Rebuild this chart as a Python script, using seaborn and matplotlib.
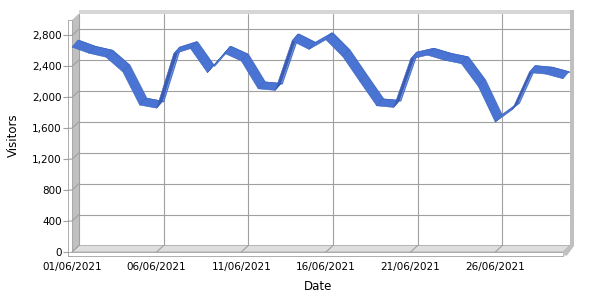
import numpy as np
import pandas as pd
import matplotlib
matplotlib.use("Agg")
import matplotlib.pyplot as plt
import matplotlib.dates as mdates
from matplotlib.patches import Polygon, Rectangle
from matplotlib.transforms import IdentityTransform
import seaborn as sns

# ---------------- data ----------------
dates = pd.date_range("2021-06-01", "2021-06-30", freq="D")
visitors = [2650, 2570, 2520, 2330, 1900, 1860, 2560, 2630, 2320, 2570,
            2470, 2110, 2090, 2730, 2620, 2745, 2525, 2205, 1890, 1870,
            2495, 2545, 2480, 2435, 2140, 1680, 1840, 2320, 2300, 2240]
y_ticks = [0, 400, 800, 1200, 1600, 2000, 2400, 2800]
x_tick_dates = pd.to_datetime(["2021-06-01", "2021-06-06", "2021-06-11",
                               "2021-06-16", "2021-06-21", "2021-06-26"])
x_label = "Date"
y_label = "Visitors"

df = pd.DataFrame({"Date": dates, "Visitors": visitors})

# ---------------- style ----------------
sns.set_theme(style="white")
plt.rcParams['font.family'] = ['DejaVu Sans']

W, H = 600, 300
fig = plt.figure(figsize=(6, 3), dpi=100)
fig.patch.set_facecolor("white")

def fr(l, t, r, b):
    return [l / W, 1 - b / H, (r - l) / W, (b - t) / H]

BL, BT, BR, BB = 79, 13.5, 570, 245.5     # back wall (image px)
DX, DY = -7, 6.5                          # depth offset of the front plane
GRID = "#a0a0a0"
RIB = "#4a74d4"
RIB_DARK = "#3a5db3"
RIB_EDGE = "#3d62bb"

bg = fig.add_axes([0, 0, 1, 1], zorder=0)
bg.set_xlim(0, W); bg.set_ylim(H, 0); bg.axis("off")

ax = fig.add_axes(fr(BL, BT, BR, BB), zorder=1)
fax = fig.add_axes(fr(BL + DX, BT + DY, BR + DX, BB + DY), zorder=2)

xlim = (dates[0], dates[-1])
ylim = (0, 3000)

# back wall: gridlines + line via seaborn
sns.lineplot(data=df, x="Date", y="Visitors", ax=ax, color=RIB, lw=1.0, zorder=2)
ax.set_xlim(*xlim); ax.set_ylim(*ylim)
ax.set_yticks(y_ticks); ax.set_xticks(x_tick_dates)
ax.grid(True, color=GRID, lw=0.8)
ax.tick_params(length=0, labelleft=False, labelbottom=False)
ax.set_xlabel(""); ax.set_ylabel("")
ax.set_facecolor("none")
for s in ax.spines.values():
    s.set_visible(False)

# front plane: tick labels and axis titles
fax.set_xlim(*xlim); fax.set_ylim(*ylim)
fax.set_facecolor("none")
for s in fax.spines.values():
    s.set_visible(False)
fax.spines["left"].set_position(("outward", 4 * 0.72))
fax.set_yticks(y_ticks)
fax.set_yticklabels([f"{v:,}" for v in y_ticks])
fax.set_xticks(x_tick_dates)
fax.xaxis.set_major_formatter(mdates.DateFormatter("%d/%m/%Y"))
fax.tick_params(axis="y", length=5 * 0.72, width=0.8, color=GRID, pad=1,
                labelsize=7.5, labelcolor="black", left=True)
fax.tick_params(axis="x", length=0, pad=7.5, labelsize=7.5, labelcolor="black")
fax.grid(False)
fax.set_xlabel(x_label, fontsize=8.5, color="black")
fax.set_ylabel(y_label, fontsize=8.5, color="black")
fax.xaxis.set_label_coords((318 - (BL + DX)) / (BR - BL), -(287 - (BB + DY)) / (BB - BT))
fax.xaxis.label.set_va("center")
fax.yaxis.set_label_coords((13 - (BL + DX)) / (BR - BL), ((BB + DY) - 135) / (BB - BT))
fax.yaxis.label.set_va("center")

# ---------------- walls (decoration, image px) ----------------
bg.add_patch(Rectangle((BL, 10), BR + 4 - BL, BT - 10, facecolor="#d6d6d6", edgecolor="none"))
bg.add_patch(Rectangle((BR, 10), 4, BB - 10, facecolor="#c0c0c0", edgecolor="none"))
bg.add_patch(Polygon([(BL + DX, BT + DY), (BL, BT), (BL, BB), (BL + DX, BB + DY)],
                     closed=True, facecolor="#c0c0c0", edgecolor="none"))
bg.add_patch(Rectangle((BL + DX - 4, BT + DY), 4, BB - BT + 3.5,
                       facecolor="white", edgecolor=GRID, lw=0.6))
bg.add_patch(Polygon([(BL, BB), (BR, BB), (BR + DX, BB + DY), (BL + DX, BB + DY)],
                     closed=True, facecolor="#dedede", edgecolor=GRID, lw=0.5))
bg.add_patch(Rectangle((BL + DX - 4, BB + DY), BR - BL + 4, 3.5,
                       facecolor="white", edgecolor=GRID, lw=0.6))
bg.add_patch(Polygon([(BR, BB), (BR + 4, BB - 3), (BR + 4, BB + 0.5),
                      (BR + DX + 4, BB + DY + 3.5), (BR + DX, BB + DY + 3.5), (BR + DX, BB + DY)],
                     closed=True, facecolor="#c0c0c0", edgecolor="none"))

def to_img(x, y):
    dx, dy = ax.transData.transform((x, y))
    return dx, H - dy

for v in y_ticks[1:]:
    _, yb = to_img(mdates.date2num(dates[0]), v)
    bg.plot([BL + DX - 4, BL + DX, BL], [yb + DY, yb + DY, yb], color=GRID, lw=0.8)
for d in x_tick_dates:
    xb, _ = to_img(mdates.date2num(d), 0)
    bg.plot([xb, xb + DX], [BB, BB + DY], color=GRID, lw=0.8)

# ---------------- 3D ribbon from the data ----------------
xs = mdates.date2num(dates)
pts = ax.transData.transform(np.column_stack([xs, visitors]))
back = pts + np.array([-1.0, 0.5])
front = pts + np.array([DX, -DY])
for i in range(len(pts) - 1):
    s = back[i + 1] - back[i]
    d = front[i] - back[i]
    cross = s[0] * d[1] - s[1] * d[0]
    col = RIB if cross < 0 else RIB_DARK
    poly = Polygon([back[i], back[i + 1], front[i + 1], front[i]], closed=True,
                   facecolor=col, edgecolor=RIB_EDGE, lw=0.4,
                   transform=IdentityTransform(), clip_on=False, zorder=3)
    ax.add_patch(poly)

fig.savefig("out.png", dpi=100)
